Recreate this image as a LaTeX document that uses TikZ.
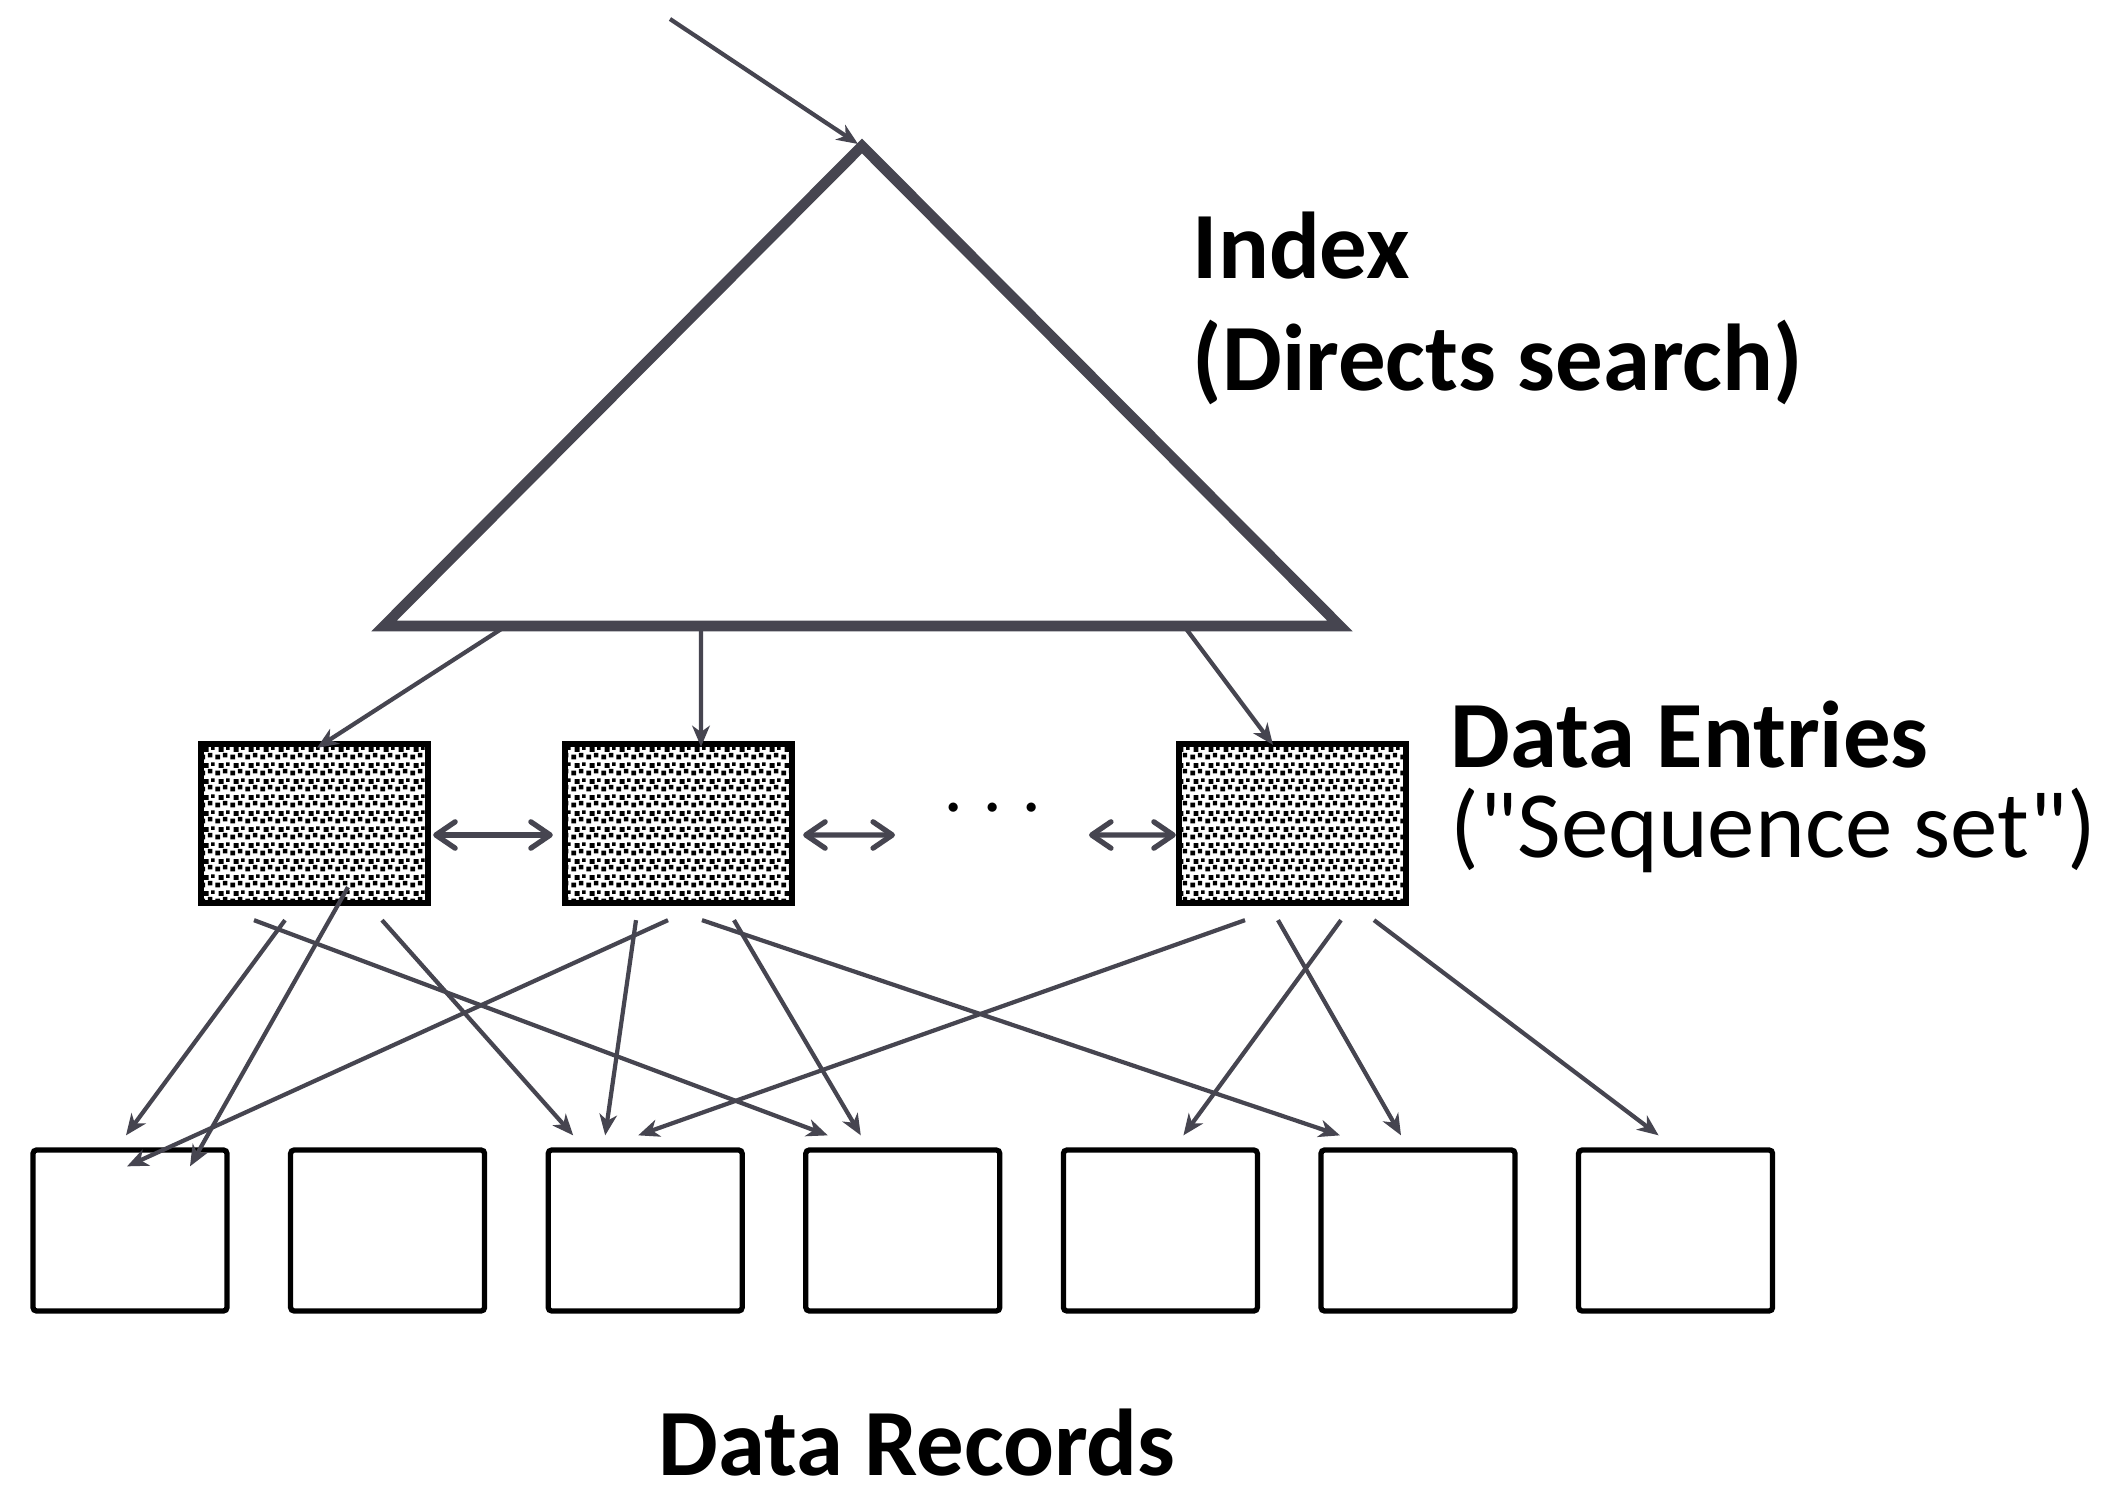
\documentclass[tikz,border=0pt]{standalone}
\usepackage{fontspec}
\setmainfont{Carlito}
\usetikzlibrary{arrows.meta,patterns.meta}

\definecolor{linegray}{RGB}{70,69,80}

% speckled fill of the leaf pages
\pgfdeclarepattern{
  name=entrydots,
  type=uncolored,
  bottom left={\pgfpointorigin},
  top right={\pgfpoint{4.4pt}{4.4pt}},
  tile size={\pgfpoint{4.4pt}{4.4pt}},
  code={
    \pgfpathrectangle{\pgfpoint{0.1pt}{0.2pt}}{\pgfpoint{1.4pt}{1.4pt}}
    \pgfpathrectangle{\pgfpoint{2.3pt}{0.8pt}}{\pgfpoint{1.3pt}{1.3pt}}
    \pgfpathrectangle{\pgfpoint{1.1pt}{2.4pt}}{\pgfpoint{1.4pt}{1.4pt}}
    \pgfpathrectangle{\pgfpoint{3.3pt}{3.0pt}}{\pgfpoint{1.0pt}{1.0pt}}
    \pgfusepath{fill}
  }
}

\tikzset{
  tri/.style={draw=linegray, line width=3pt, line join=miter},
  ptr/.style={linegray, line width=1.2pt, -{Stealth[length=6pt,width=5pt,inset=1.8pt]}},
  link/.style={linegray, line width=1.5pt,
    {Straight Barb[length=5.5pt,width=7.5pt,round]}-{Straight Barb[length=5.5pt,width=7.5pt,round]}},
  entry/.style={draw=black, line width=1.8pt, pattern=entrydots,
    minimum width=2.27cm, minimum height=1.59cm, inner sep=0pt},
  record/.style={draw=black, line width=1.5pt, rounded corners=1pt,
    minimum width=1.94cm, minimum height=1.61cm, inner sep=0pt},
  lbl/.style={inner sep=0pt, align=left, font=\fontsize{27}{32}\selectfont}
}

\begin{document}
\begin{tikzpicture}
    % Page
    \fill[white] (0,0) rectangle (21.26,14.91);

    % Index triangle
    \coordinate (apex) at (8.62,13.45);
    \coordinate (bl) at (3.84,8.65);
    \coordinate (br) at (13.40,8.65);
    \coordinate (root) at (6.70,14.72);
    \draw[tri] (apex) -- (br) -- (bl) -- cycle;
    \draw[ptr] (root) -- ([xshift=-0.04cm,yshift=0.02cm]apex);
    \node[lbl, anchor=base west] (index) at (11.92,11.00)
        {\textbf{Index}\\\textbf{(Directs search)}};

    % Data entries
    \node[entry] (e1) at (3.145,6.675) {};
    \node[entry] (e2) at (6.785,6.675) {};
    \node[entry] (e3) at (12.925,6.675) {};
    \node[inner sep=0pt, font=\fontsize{23}{28}\selectfont, anchor=base] (dots) at (9.93,6.62) {$\cdots$};
    \node[lbl, anchor=base west, font=\fontsize{27}{25.6}\selectfont] (entries) at (14.50,6.34)
        {\textbf{Data Entries}\\(\textquotedbl Sequence set\textquotedbl)};

    % Links between neighbouring pages
    \coordinate (gapL) at (8.95,6.56);
    \coordinate (gapR) at (10.89,6.56);
    \draw[link] ([xshift=0.02cm,yshift=-0.115cm]e1.east) -- ([xshift=-0.09cm,yshift=-0.115cm]e2.west);
    \draw[link] ([xshift=0.08cm,yshift=-0.115cm]e2.east) -- (gapL);
    \draw[link] (gapR) -- ([yshift=-0.115cm]e3.west);

    % Index down to the pages
    \draw[ptr] ([xshift=1.22cm]bl) -- ([xshift=0.025cm,yshift=-0.07cm]e1.north);
    \draw[ptr] ([xshift=3.17cm]bl) -- ([xshift=0.225cm,yshift=-0.06cm]e2.north);
    \draw[ptr] ([xshift=8.00cm]bl) -- ([xshift=-0.195cm,yshift=-0.04cm]e3.north);

    % Data records
    \foreach \i in {1,...,7}
        \node[record] (r\i) at ({1.30+(\i-1)*2.576},2.605) {};
    \node[lbl, anchor=base] (records) at (9.17,0.16) {\textbf{Data Records}};

    % Pointers from the first page
    \draw[ptr] ([xshift=-0.605cm,yshift=-0.14cm]e1.south) -- ([xshift=-0.75cm,yshift=0.12cm]r4.north);
    \draw[ptr] ([xshift=-0.295cm,yshift=-0.14cm]e1.south) -- ([xshift=-0.04cm,yshift=0.12cm]r1.north);
    \draw[ptr] ([xshift=0.335cm,yshift=0.19cm]e1.south) -- ([xshift=0.60cm,yshift=-0.19cm]r1.north);
    \draw[ptr] ([xshift=0.675cm,yshift=-0.14cm]e1.south) -- ([xshift=-0.72cm,yshift=0.12cm]r3.north);

    % Pointers from the second page
    \draw[ptr] ([xshift=-0.425cm,yshift=-0.14cm]e2.south) -- ([xshift=-0.40cm,yshift=0.12cm]r3.north);
    \draw[ptr] ([xshift=-0.105cm,yshift=-0.14cm]e2.south) -- ([xshift=-0.03cm,yshift=-0.19cm]r1.north);
    \draw[ptr] ([xshift=0.235cm,yshift=-0.14cm]e2.south) -- ([xshift=-0.78cm,yshift=0.12cm]r6.north);
    \draw[ptr] ([xshift=0.555cm,yshift=-0.14cm]e2.south) -- ([xshift=-0.42cm,yshift=0.12cm]r4.north);

    % Pointers from the last page
    \draw[ptr] ([xshift=-0.475cm,yshift=-0.14cm]e3.south) -- ([xshift=-0.07cm,yshift=0.12cm]r3.north);
    \draw[ptr] ([xshift=-0.145cm,yshift=-0.14cm]e3.south) -- ([xshift=-0.17cm,yshift=0.12cm]r6.north);
    \draw[ptr] ([xshift=0.485cm,yshift=-0.14cm]e3.south) -- ([xshift=0.23cm,yshift=0.12cm]r5.north);
    \draw[ptr] ([xshift=0.815cm,yshift=-0.14cm]e3.south) -- ([xshift=-0.17cm,yshift=0.12cm]r7.north);
\end{tikzpicture}
\end{document}
